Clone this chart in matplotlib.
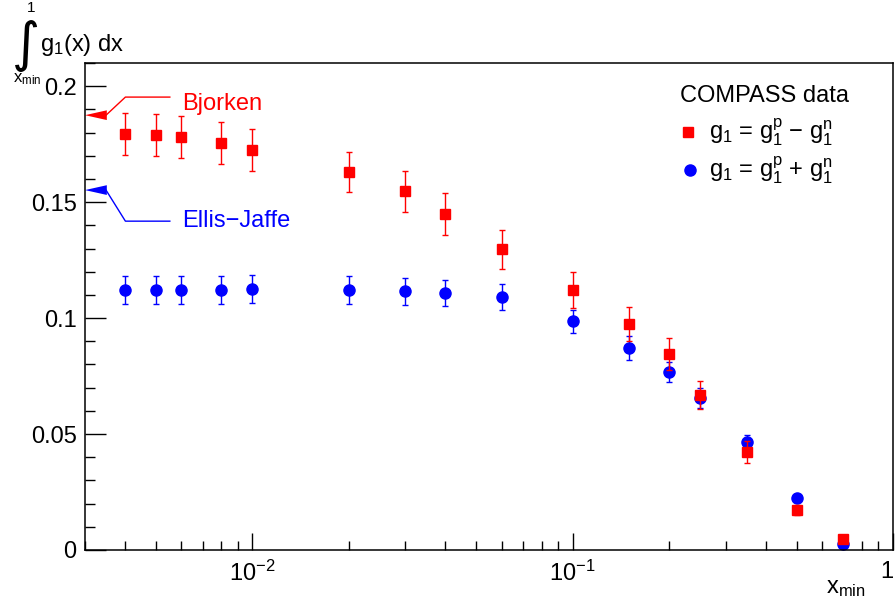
import matplotlib
matplotlib.use("Agg")
import matplotlib.pyplot as plt
import matplotlib.transforms as mtransforms
from matplotlib.ticker import LogLocator, FixedLocator, NullFormatter, MultipleLocator

plt.rcParams['font.family'] = ['Liberation Sans', 'DejaVu Sans']
plt.rcParams['mathtext.fontset'] = 'custom'
plt.rcParams['mathtext.rm'] = 'Liberation Sans'
plt.rcParams['mathtext.it'] = 'Liberation Sans'
plt.rcParams['mathtext.bf'] = 'Liberation Sans:bold'

# data
x_min = [0.004, 0.005, 0.006, 0.008, 0.01, 0.02, 0.03, 0.04, 0.06, 0.1,
         0.15, 0.2, 0.25, 0.35, 0.5, 0.7]
ns_val = [0.1793, 0.179, 0.178, 0.1754, 0.1724, 0.163, 0.1547, 0.1448, 0.1297,
          0.112, 0.0974, 0.0845, 0.0668, 0.0422, 0.0172, 0.0047]
ns_err = [0.009, 0.009, 0.009, 0.009, 0.009, 0.0088, 0.0088, 0.009, 0.0084,
          0.0078, 0.0073, 0.0069, 0.0062, 0.0047, 0.002, 0.0008]
s_val = [0.1121, 0.1121, 0.1121, 0.1121, 0.1127, 0.1121, 0.1116, 0.1108, 0.109,
         0.0987, 0.087, 0.0767, 0.0655, 0.0466, 0.0224, 0.0026]
s_err = [0.006, 0.006, 0.006, 0.006, 0.006, 0.006, 0.0058, 0.0057, 0.0056,
         0.005, 0.0052, 0.0043, 0.0043, 0.003, 0.0012, 0.0005]
bjorken = 0.1875
ellis_jaffe = 0.1552

fig = plt.figure(figsize=(8.96, 6.05), dpi=100)
ax = fig.add_axes([85 / 896, 55 / 605, 808 / 896, 487 / 605])

ax.errorbar(x_min, ns_val, yerr=ns_err, fmt='s', color='red', ms=6.5,
            elinewidth=1, capsize=2.5, capthick=1, zorder=3)
ax.errorbar(x_min, s_val, yerr=s_err, fmt='o', color='blue', ms=8,
            elinewidth=1, capsize=2.5, capthick=1, zorder=2)

ax.set_xscale('log')
ax.set_xlim(0.003, 1)
ax.set_ylim(0, 0.21)

for sp in ax.spines.values():
    sp.set_linewidth(1.1)

ax.xaxis.set_major_locator(FixedLocator([0.01, 0.1, 1]))
ax.set_xticklabels([r'$10^{-2}$', r'$10^{-1}$', '1'])
ax.xaxis.set_minor_locator(LogLocator(base=10, subs=range(2, 10), numticks=20))
ax.xaxis.set_minor_formatter(NullFormatter())
ax.set_yticks([0, 0.05, 0.1, 0.15, 0.2])
ax.set_yticklabels(['0', '0.05', '0.1', '0.15', '0.2'])
ax.yaxis.set_minor_locator(MultipleLocator(0.01))
ax.tick_params(axis='both', which='both', direction='in', labelsize=17,
               top=False, right=False, width=1)
ax.tick_params(axis='y', which='major', length=15, pad=6)
ax.tick_params(axis='y', which='minor', length=7.5)
ax.tick_params(axis='x', which='major', length=12, pad=8)
ax.tick_params(axis='x', which='minor', length=6.5)
ax.xaxis.get_majorticklabels()[-1].set_horizontalalignment('right')

# theory arrows
tr = mtransforms.blended_transform_factory(ax.transAxes, ax.transData)
for val, corner, text_y, col, label in [
        (bjorken, 0.1953, 0.1925, 'red', 'Bjorken'),
        (ellis_jaffe, 0.1418, 0.1418, 'blue', 'Ellis\u2212Jaffe')]:
    ax.plot([0.105, 0.05, 0.026], [corner, corner, val], color=col, lw=1,
            transform=tr, clip_on=False)
    ax.fill([0, 0.027, 0.027], [val, val + 0.0021, val - 0.0021], color=col,
            transform=tr, clip_on=False, lw=0)
    ax.text(0.12, text_y, label, color=col, fontsize=17,
            transform=tr, va='center', ha='left')

# legend
ax.text(0.736, 0.932, 'COMPASS data', fontsize=17, transform=ax.transAxes,
        va='center', ha='left')
ax.plot([0.746], [0.858], 's', color='red', ms=6.5, transform=ax.transAxes)
ax.plot([0.749], [0.780], 'o', color='blue', ms=8, transform=ax.transAxes)
ax.text(0.772, 0.858, 'g$_1$ = g$_1^p$ \u2212 g$_1^n$', fontsize=17,
        transform=ax.transAxes, va='center', ha='left')
ax.text(0.772, 0.780, 'g$_1$ = g$_1^p$ + g$_1^n$', fontsize=17,
        transform=ax.transAxes, va='center', ha='left')

# axis titles
fig.text(26 / 896, 1 - 46 / 605, '\u222b', fontsize=39, ha='center', va='center',
         family=['DejaVu Sans'])
fig.text(31 / 896, 1 - 8 / 605, '1', fontsize=11, ha='center', va='center')
fig.text(27 / 896, 1 - 79 / 605, r'x$_{min}$', fontsize=12, ha='center', va='center')
fig.text(40 / 896, 1 - 45 / 605, 'g$_1$(x) dx', fontsize=17, ha='left', va='center')
fig.text(866 / 896, 1 - 588 / 605, 'x$_{min}$', fontsize=17, ha='right', va='center')

fig.savefig('out.png', dpi=100)
